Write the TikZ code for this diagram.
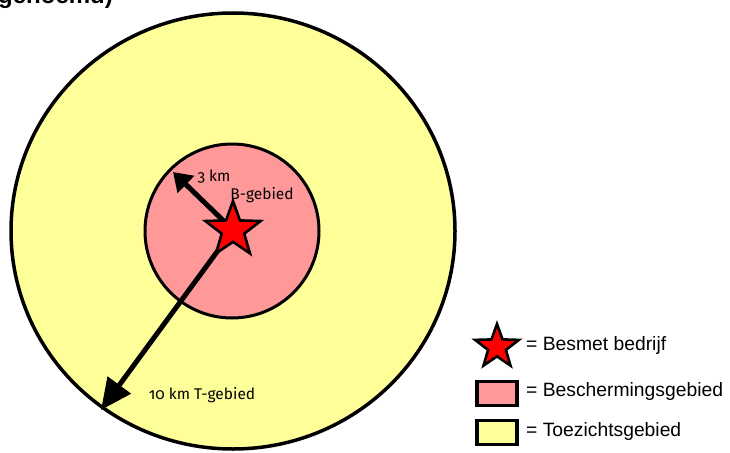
\documentclass[tikz,border=0pt]{standalone}
\usepackage{fontspec}
\setmainfont{Liberation Sans}
\newfontfamily\kaartfont[Numbers=OldStyle]{Fira Sans}
\usetikzlibrary{arrows.meta,shapes.geometric}

\definecolor{toezicht}{HTML}{FFFF99}
\definecolor{bescherming}{HTML}{FF9999}
\tikzset{
  besmet/.style={star,star points=5,star point ratio=2.45,draw=black,fill=red,line width=2.6pt,inner sep=0pt},
  vak/.style={draw=black,line width=3.2pt,minimum width=40pt,minimum height=24pt,inner sep=0pt},
  uitleg/.style={anchor=west,inner sep=0pt,font=\fontsize{19.3}{21}\selectfont},
  kaart/.style={inner sep=0pt,font=\kaartfont\fontsize{15.5}{17}\selectfont},
  straal/.style={line width=5pt}
}

\begin{document}
\begin{tikzpicture}[x=1pt,y=-1pt]
\useasboundingbox (0,0) rectangle (730,452);
\clip (0,0) rectangle (730,452);
\node[anchor=base west,inner sep=0pt,font=\bfseries\fontsize{24}{26}\selectfont] (kop) at (-2,4) {genoemd)};
\draw[fill=toezicht,line width=3.5pt] (233,231) ellipse [x radius=222,y radius=218];
\draw[fill=bescherming,line width=3pt] (232,231) circle [radius=87];
\coordinate (bedrijf) at (233,230);
\coordinate (rand3) at (173,172);
\coordinate (rand10) at (101,410);
\draw[straal,-{Triangle[length=18pt,width=23pt]}] (bedrijf) -- (rand3);
\draw[straal,-{Triangle[length=31pt,width=28pt]}] (bedrijf) -- (rand10);
\node[besmet,minimum size=58pt] (ster) at (bedrijf) {};
\node[kaart] (km3) at (214,177) {3 km};
\node[kaart] (bgebied) at (262,195) {B-gebied};
\node[kaart] (tgebied) at (202,395) {10 km T-gebied};
\node[besmet,minimum size=46pt] (lster) at (497,347) {};
\node[vak,fill=bescherming] (lroze) at (497,393.5) {};
\node[vak,fill=toezicht] (lgeel) at (497,432.5) {};
\node[uitleg] (tster) at (526,346) {= Besmet bedrijf};
\node[uitleg] (troze) at (526,392) {= Beschermingsgebied};
\node[uitleg] (tgeel) at (526,432) {= Toezichtsgebied};
\end{tikzpicture}
\end{document}
